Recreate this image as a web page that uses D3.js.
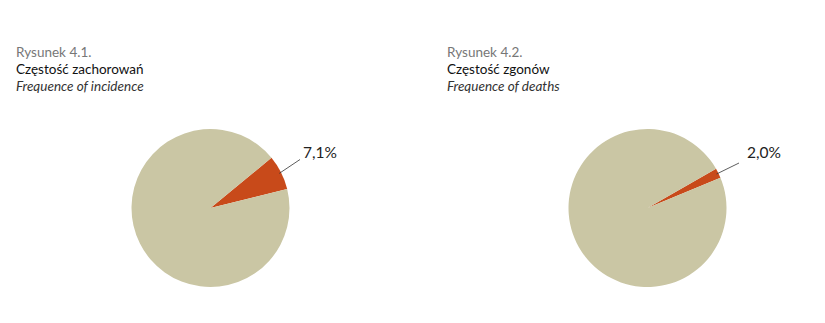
<!DOCTYPE html>
<html><head><meta charset="utf-8">
<script src="https://cdn.jsdelivr.net/npm/d3@7"></script>
<style>body{margin:0;background:#fff}svg{display:block}</style>
</head><body>
<script>
const figures = ["Rysunek 4.1.", "Rysunek 4.2."];
const titlesPl = ["Częstość zachorowań", "Częstość zgonów"];
const titlesEn = ["Frequence of incidence", "Frequence of deaths"];
const shares = [7.1, 2.0];
const labels = ["7,1%", "2,0%"];
const startAngles = [50.5, 60.2];

const W = 825, H = 323;
const svg = d3.select("body").append("svg").attr("width", W).attr("height", H);
const font = "Lato, 'Open Sans', sans-serif";
const cols = { main: "#cac6a4", part: "#c84a1a" };
const panels = [
  {tx: 16, cx: 210.5, lx: 303, leadEnd: [300, 159.5]},
  {tx: 447, cx: 647.5, lx: 747, leadEnd: [739, 163]}
];
const R = 79, cy = 208;

panels.forEach((p, i) => {
  const g = svg.append("g");
  g.append("text").attr("x", p.tx).attr("y", 57).attr("font-family", font).attr("font-size", 13.5).attr("fill", "#777").text(figures[i]);
  g.append("text").attr("x", p.tx).attr("y", 74).attr("font-family", font).attr("font-size", 13.5).attr("fill", "#111").text(titlesPl[i]);
  g.append("text").attr("x", p.tx).attr("y", 91).attr("font-family", font).attr("font-size", 13.5).attr("font-style", "italic").attr("fill", "#333").text(titlesEn[i]);

  const data = [shares[i], 100 - shares[i]];
  const a0 = startAngles[i] * Math.PI / 180;
  const pie = d3.pie().sort(null).startAngle(a0).endAngle(a0 + 2 * Math.PI);
  const arcs = pie(data);
  const arc = d3.arc().innerRadius(0).outerRadius(R);
  const pg = g.append("g").attr("transform", `translate(${p.cx},${cy})`);
  pg.selectAll("path").data(arcs).join("path").attr("d", arc)
    .attr("fill", (d, j) => j === 0 ? cols.part : cols.main);

  const a = arcs[0];
  const mid = (a.startAngle + a.endAngle) / 2 - Math.PI / 2;
  pg.append("line")
    .attr("x1", Math.cos(mid) * (R - 2)).attr("y1", Math.sin(mid) * (R - 2))
    .attr("x2", p.leadEnd[0] - p.cx).attr("y2", p.leadEnd[1] - cy)
    .attr("stroke", "#333").attr("stroke-width", 0.8);
  g.append("text").attr("x", p.lx).attr("y", 158).attr("font-family", font).attr("font-size", 15.5).attr("fill", "#222").text(labels[i]);
});
</script>
</body></html>
